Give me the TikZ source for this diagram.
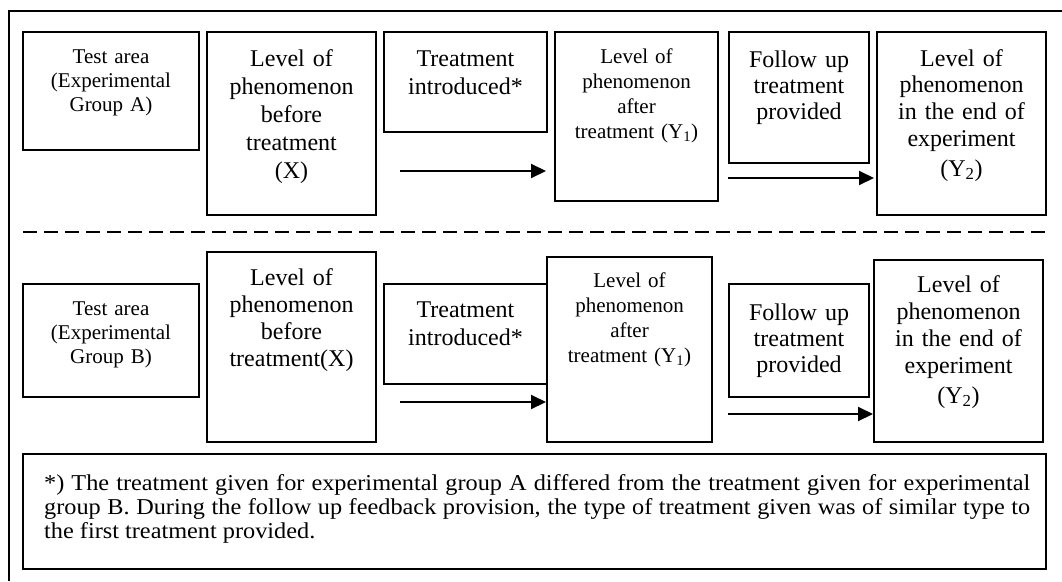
\documentclass[tikz,border=0pt]{standalone}
\usepackage{fontspec}
\setmainfont{Liberation Serif}
\newfontfamily\notefont{Liberation Serif}[FakeStretch=1.07]
\usetikzlibrary{arrows.meta}
\newcommand{\mybox}[5]{\node[boxstyle, minimum width={#4-#2}, minimum height={#5-#3}] (#1) at ({(#2+#4)/2},{(#3+#5)/2}) {};}
\begin{document}
\begin{tikzpicture}[x=1pt,y=-1pt,
  boxstyle/.style={draw=black, line width=1.3pt, inner sep=0pt, outer sep=0pt},
  txt/.style={anchor=base, align=center, inner sep=0pt, text width=160pt},
  big/.style={font=\fontsize{24}{#1}\selectfont},
  small/.style={font=\fontsize{21}{#1}\selectfont},
  arr/.style={-{Triangle[length=15pt,width=14pt]}, line width=2pt},
]
\useasboundingbox (0,0) rectangle (1062,581);
% outer frame (top and left edges)
\coordinate (ftr) at (1062,11);
\coordinate (ftl) at (9,11);
\coordinate (fbl) at (9,581);
\draw[line width=1.5pt] (ftr) -- (ftl) -- (fbl);

% ---- Row A ----
\mybox{tA}{23}{32}{199}{150}
\mybox{bA}{207}{32}{376}{215}
\mybox{iA}{384}{32}{547}{132}
\mybox{aA}{555}{32}{718}{201}
\mybox{fA}{729}{32}{869}{163}
\mybox{eA}{877}{32}{1046}{215}

\node[txt, small=24] (tAt) at (111,63) {Test area\\(Experimental\\Group A)};
\node[txt, big=28] (bAt) at (291.5,66) {Level of\\phenomenon\\before\\treatment\\(X)};
\node[txt, big=28] (iAt) at (465.5,66) {Treatment\\introduced*};
\node[txt, small=25] (aAt) at (636.5,63) {Level of\\phenomenon\\after\\treatment (Y\textsubscript{1})};
\node[txt, big=26] (fAt) at (799,67) {Follow up\\treatment\\provided};
\node[txt, big=26.8] (eAt) at (961.5,66) {Level of\\phenomenon\\in the end of\\experiment\\[3pt](Y\textsubscript{2})};

\coordinate (a1s) at (400,171);
\coordinate (a1e) at (546,171);
\coordinate (a2s) at (728,178);
\coordinate (a2e) at (874,178);
\draw[arr] (a1s) -- (a1e);
\draw[arr] (a2s) -- (a2e);

% separator
\coordinate (dl) at (23,232);
\coordinate (dr) at (1045,232);
\draw[line width=1.8pt, dash pattern=on 14pt off 7pt] (dl) -- (dr);

% ---- Row B ----
\mybox{tB}{23}{284}{199}{397}
\mybox{bB}{207}{252}{376}{442}
\mybox{iB}{384}{284}{547}{384}
\mybox{aB}{547}{257}{712}{442}
\mybox{fB}{729}{284}{869}{397}
\mybox{eB}{874}{260}{1043}{442}

\node[txt, small=24] (tBt) at (111,315) {Test area\\(Experimental\\Group B)};
\node[txt, big=27] (bBt) at (291.5,285) {Level of\\phenomenon\\before\\treatment(X)};
\node[txt, big=28] (iBt) at (465.5,317) {Treatment\\introduced*};
\node[txt, small=25] (aBt) at (629.5,287) {Level of\\phenomenon\\after\\treatment (Y\textsubscript{1})};
\node[txt, big=26] (fBt) at (799,320) {Follow up\\treatment\\provided};
\node[txt, big=27] (eBt) at (958.5,292) {Level of\\phenomenon\\in the end of\\experiment\\[3pt](Y\textsubscript{2})};

\coordinate (b1s) at (400,402);
\coordinate (b1e) at (546,402);
\coordinate (b2s) at (728,414);
\coordinate (b2e) at (873,414);
\draw[arr] (b1s) -- (b1e);
\draw[arr] (b2s) -- (b2e);

% ---- Note ----
\mybox{note}{23}{454}{1046}{569}
\node[anchor=base west, inner sep=0pt, text width=986pt, align=justify,
      font=\notefont\fontsize{22.7}{24}\selectfont] (notet) at (44,490)
  {*) The treatment given for experimental group A differed from the treatment given for experimental\linebreak
   group B. During the follow up feedback provision, the type of treatment given was of similar type to\linebreak
   the first treatment provided.};
\end{tikzpicture}
\end{document}
